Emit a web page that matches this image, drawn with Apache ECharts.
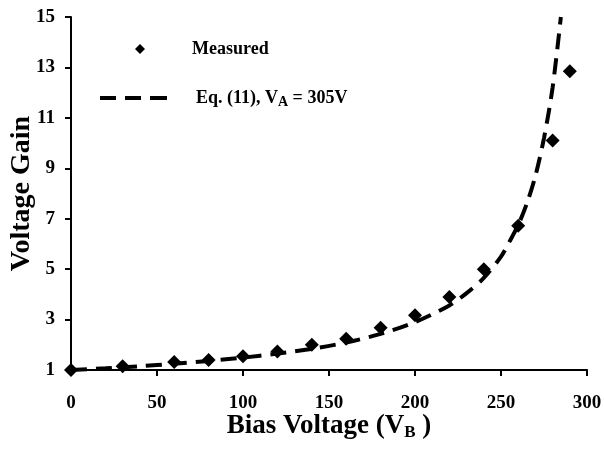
<!DOCTYPE html>
<html>
<head>
<meta charset="utf-8">
<script src="https://cdn.jsdelivr.net/npm/echarts@6/dist/echarts.min.js"></script>
<style>
  html, body { margin: 0; padding: 0; background: #fff; }
  #chart { width: 604px; height: 454px; }
</style>
</head>
<body>
<div id="chart"></div>
<script>
// Measured voltage gain vs. bias voltage
const measuredBias = [0, 30, 60, 80, 100, 120, 140, 160, 180, 200, 220, 240, 260, 280, 290];
const measuredGain = [1.0, 1.15, 1.32, 1.4, 1.55, 1.73, 2.0, 2.24, 2.68, 3.17, 3.9, 5.0, 6.72, 10.1, 12.85];

// Model curve, Eq. (11) with V_A = 305 V
const modelBias = [0, 20, 40, 60, 80, 100, 120, 140, 160, 180, 200, 220, 230, 240, 250, 255, 260, 265, 270, 275, 280, 284.8];
const modelGain = [1.0, 1.07, 1.15, 1.25, 1.36, 1.49, 1.65, 1.84, 2.09, 2.43, 2.9, 3.56, 4.05, 4.65, 5.5, 6.1, 6.75, 7.6, 8.7, 10.2, 12.2, 15.0];

const xTicks = [0, 50, 100, 150, 200, 250, 300];
const yTicks = [1, 3, 5, 7, 9, 11, 13, 15];

const FONT = '"Liberation Serif", "Times New Roman", serif';

const zip = (xs, ys) => xs.map((x, i) => [x, ys[i]]);

// three short bars used as the legend key of the dashed curve
const DASH_ICON = 'path://M0,0h16v4h-16z M25,0h16v4h-16z M50,0h17v4h-17z';

const chart = echarts.init(document.getElementById('chart'), null, { renderer: 'canvas' });

chart.setOption({
  backgroundColor: '#ffffff',
  animation: false,
  grid: { left: 71, right: 17, top: 17, bottom: 84, containLabel: false, outerBoundsMode: 'none' },
  legend: [
    {
      data: [{ name: 'Measured', icon: 'diamond' }],
      left: 135, top: 40, padding: 0,
      itemWidth: 10, itemHeight: 10,
      textStyle: { fontFamily: FONT, fontWeight: 'bold', fontSize: 18, color: '#000', padding: [0, 0, 0, 42] },
      selectedMode: false
    },
    {
      data: [{ name: 'Eq. (11)', icon: DASH_ICON }],
      left: 100, top: 89, padding: 0,
      itemWidth: 67, itemHeight: 4,
      itemStyle: { color: '#000', opacity: 1 },
      formatter: () => '{a|Eq. (11), V}{s|A}{a| = 305V}',
      textStyle: {
        fontFamily: FONT, fontWeight: 'bold', fontSize: 18, color: '#000', padding: [0, 0, 0, 24],
        rich: {
          a: { fontFamily: FONT, fontWeight: 'bold', fontSize: 18, color: '#000' },
          s: { fontFamily: FONT, fontWeight: 'bold', fontSize: 14, color: '#000', padding: [9, 0, 0, 0] }
        }
      },
      selectedMode: false
    }
  ],
  xAxis: {
    type: 'value',
    min: 0, max: 300, interval: 50,
    name: '{t|Bias Voltage (V}{s|B}{t| )}',
    nameLocation: 'middle',
    nameGap: 42,
    nameMoveOverlap: false,
    nameTextStyle: {
      rich: {
        t: { fontFamily: FONT, fontWeight: 'bold', fontSize: 27, color: '#000' },
        s: { fontFamily: FONT, fontWeight: 'bold', fontSize: 17, color: '#000', padding: [12, 0, 0, 0] }
      }
    },
    axisLine: { show: true, lineStyle: { color: '#000', width: 2 } },
    axisTick: { show: true, inside: false, length: 6, lineStyle: { color: '#000', width: 2 } },
    axisLabel: {
      margin: 24,
      fontFamily: FONT, fontWeight: 'bold', fontSize: 19, color: '#000',
      customValues: xTicks
    },
    splitLine: { show: false }
  },
  yAxis: {
    type: 'value',
    min: 1, max: 15, interval: 2,
    name: 'Voltage Gain',
    nameLocation: 'middle',
    nameGap: 35,
    nameMoveOverlap: false,
    nameTextStyle: { fontFamily: FONT, fontWeight: 'bold', fontSize: 28, color: '#000' },
    axisLine: { show: true, onZero: false, lineStyle: { color: '#000', width: 2 } },
    axisTick: { show: true, inside: false, length: 6, lineStyle: { color: '#000', width: 2 } },
    axisLabel: {
      margin: 16,
      fontFamily: FONT, fontWeight: 'bold', fontSize: 19, color: '#000',
      customValues: yTicks
    },
    splitLine: { show: false }
  },
  series: [
    {
      name: 'Eq. (11)',
      type: 'line',
      data: zip(modelBias, modelGain),
      smooth: 0.3,
      showSymbol: false,
      symbol: 'none',
      lineStyle: { color: '#000', width: 4, type: [16, 9] },
      itemStyle: { color: '#000' },
      z: 2
    },
    {
      name: 'Measured',
      type: 'scatter',
      data: zip(measuredBias, measuredGain),
      symbol: 'diamond',
      symbolSize: 14,
      itemStyle: { color: '#000', opacity: 1 },
      z: 3
    }
  ]
});
</script>
</body>
</html>
